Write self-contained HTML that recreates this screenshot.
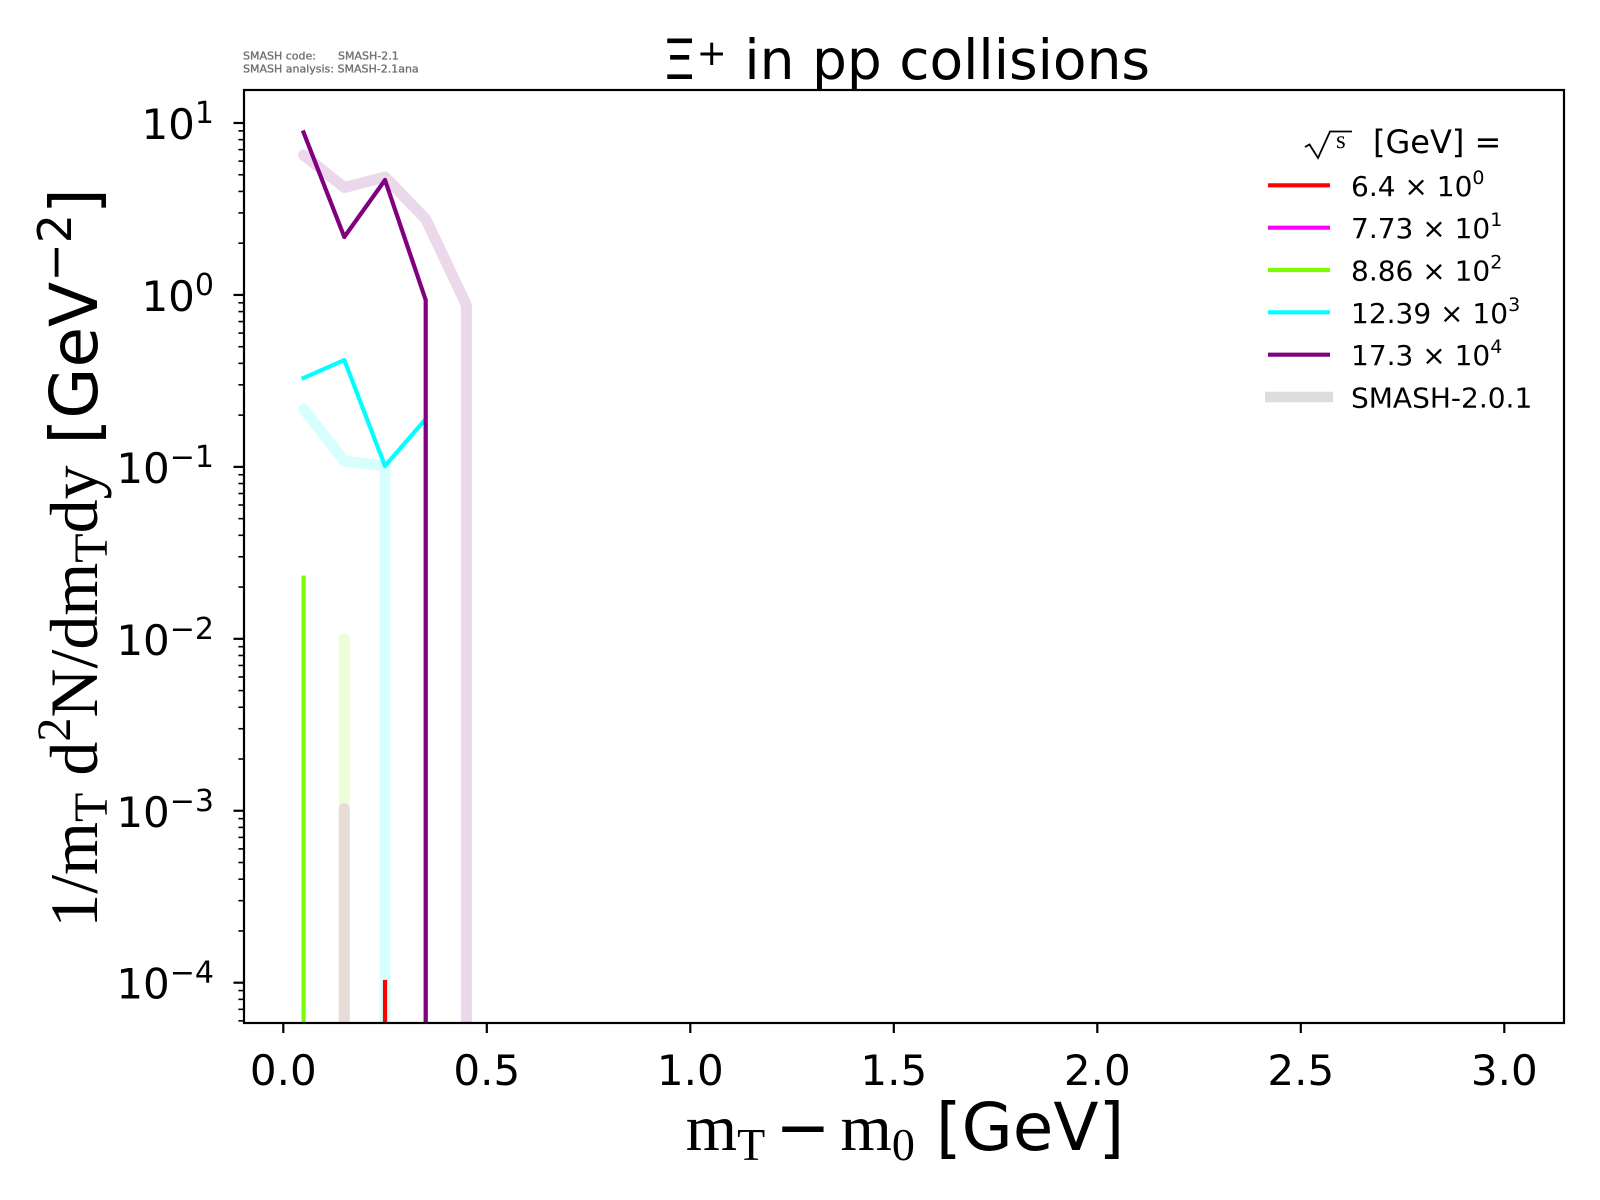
<!DOCTYPE html>
<html><head><meta charset="utf-8"><style>
html,body{margin:0;padding:0;background:#fff;}
svg{display:block;}
text{font-family:"DejaVu Sans","Liberation Sans",sans-serif;fill:#000;}
.serif{font-family:"Liberation Serif","DejaVu Serif",serif;}
</style></head><body>
<svg width="1600" height="1200" viewBox="0 0 1600 1200" xmlns="http://www.w3.org/2000/svg">
<rect x="0" y="0" width="1600" height="1200" fill="#fff"/>
<defs><clipPath id="ax"><rect x="244" y="90" width="1320" height="933"/></clipPath></defs>

<!-- header small text -->
<g font-size="11" style="fill:#6a6a6a;stroke:#7a7a7a;stroke-width:0.35">
<text x="243" y="59.5" style="fill:#6a6a6a">SMASH code:</text>
<text x="338" y="59.5" style="fill:#6a6a6a">SMASH-2.1</text>
<text x="243" y="72.5" style="fill:#6a6a6a">SMASH analysis: SMASH-2.1ana</text>
</g>

<!-- title -->
<text x="906" y="79" font-size="55" text-anchor="middle">Ξ<tspan font-size="36" dy="-14">+</tspan><tspan dy="14"> in pp collisions</tspan></text>

<!-- data -->
<g clip-path="url(#ax)" fill="none" stroke-linejoin="round">
  <polyline points="303.6,155 344.3,187.5 385,177 425.7,219 466.4,305 466.4,1030" stroke="#ebd8eb" stroke-width="11" stroke-linecap="round"/>
  <polyline points="303.6,409 344.3,461 385,466 385,1030" stroke="#d7fffe" stroke-width="11" stroke-linecap="round"/>
  <line x1="344.3" y1="638.5" x2="344.3" y2="1030" stroke="#ebfed9" stroke-width="11" stroke-linecap="round"/>
  <line x1="344.3" y1="808.5" x2="344.3" y2="1030" stroke="#e8dcd8" stroke-width="11" stroke-linecap="round"/>
  <line x1="303.6" y1="577.7" x2="303.6" y2="1030" stroke="#7cfc00" stroke-width="4.2" stroke-linecap="square"/>
  <line x1="385" y1="982" x2="385" y2="1030" stroke="#ff0000" stroke-width="4.2" stroke-linecap="square"/>
  <polyline points="303.6,378 344.3,360 385,466 425.7,419 425.7,1030" stroke="#00ffff" stroke-width="4.2" stroke-linecap="square"/>
  <polyline points="303.6,132.5 344.3,237 385,180 425.7,300 425.7,1030" stroke="#800080" stroke-width="4.2" stroke-linecap="square"/>
</g>

<!-- axes frame -->
<rect x="244" y="90" width="1320" height="933" fill="none" stroke="#000" stroke-width="2.2"/>

<!-- x ticks -->
<g stroke="#000" stroke-width="2.2">
  <line x1="283.3" y1="1023" x2="283.3" y2="1033"/>
  <line x1="486.8" y1="1023" x2="486.8" y2="1033"/>
  <line x1="690.3" y1="1023" x2="690.3" y2="1033"/>
  <line x1="893.8" y1="1023" x2="893.8" y2="1033"/>
  <line x1="1097.3" y1="1023" x2="1097.3" y2="1033"/>
  <line x1="1300.8" y1="1023" x2="1300.8" y2="1033"/>
  <line x1="1504.3" y1="1023" x2="1504.3" y2="1033"/>
</g>
<g font-size="42" text-anchor="middle">
  <text x="283.3" y="1085">0.0</text>
  <text x="486.8" y="1085">0.5</text>
  <text x="690.3" y="1085">1.0</text>
  <text x="893.8" y="1085">1.5</text>
  <text x="1097.3" y="1085">2.0</text>
  <text x="1300.8" y="1085">2.5</text>
  <text x="1504.3" y="1085">3.0</text>
</g>

<!-- y major ticks -->
<g stroke="#000" stroke-width="2.2">
  <line x1="233.5" y1="123" x2="244" y2="123"/>
  <line x1="233.5" y1="294.94" x2="244" y2="294.94"/>
  <line x1="233.5" y1="466.88" x2="244" y2="466.88"/>
  <line x1="233.5" y1="638.82" x2="244" y2="638.82"/>
  <line x1="233.5" y1="810.76" x2="244" y2="810.76"/>
  <line x1="233.5" y1="982.7" x2="244" y2="982.7"/>
</g>
<!-- y minor ticks -->
<g stroke="#000" stroke-width="1.6">
  <line x1="238.4" y1="243.18" x2="244" y2="243.18"/><line x1="238.4" y1="212.9" x2="244" y2="212.9"/><line x1="238.4" y1="191.42" x2="244" y2="191.42"/><line x1="238.4" y1="174.76" x2="244" y2="174.76"/><line x1="238.4" y1="161.14" x2="244" y2="161.14"/><line x1="238.4" y1="149.63" x2="244" y2="149.63"/><line x1="238.4" y1="139.66" x2="244" y2="139.66"/><line x1="238.4" y1="130.87" x2="244" y2="130.87"/>
  <line x1="238.4" y1="415.12" x2="244" y2="415.12"/><line x1="238.4" y1="384.84" x2="244" y2="384.84"/><line x1="238.4" y1="363.36" x2="244" y2="363.36"/><line x1="238.4" y1="346.7" x2="244" y2="346.7"/><line x1="238.4" y1="333.08" x2="244" y2="333.08"/><line x1="238.4" y1="321.57" x2="244" y2="321.57"/><line x1="238.4" y1="311.6" x2="244" y2="311.6"/><line x1="238.4" y1="302.81" x2="244" y2="302.81"/>
  <line x1="238.4" y1="587.06" x2="244" y2="587.06"/><line x1="238.4" y1="556.78" x2="244" y2="556.78"/><line x1="238.4" y1="535.3" x2="244" y2="535.3"/><line x1="238.4" y1="518.64" x2="244" y2="518.64"/><line x1="238.4" y1="505.02" x2="244" y2="505.02"/><line x1="238.4" y1="493.51" x2="244" y2="493.51"/><line x1="238.4" y1="483.54" x2="244" y2="483.54"/><line x1="238.4" y1="474.75" x2="244" y2="474.75"/>
  <line x1="238.4" y1="759" x2="244" y2="759"/><line x1="238.4" y1="728.72" x2="244" y2="728.72"/><line x1="238.4" y1="707.24" x2="244" y2="707.24"/><line x1="238.4" y1="690.58" x2="244" y2="690.58"/><line x1="238.4" y1="676.96" x2="244" y2="676.96"/><line x1="238.4" y1="665.45" x2="244" y2="665.45"/><line x1="238.4" y1="655.48" x2="244" y2="655.48"/><line x1="238.4" y1="646.69" x2="244" y2="646.69"/>
  <line x1="238.4" y1="930.94" x2="244" y2="930.94"/><line x1="238.4" y1="900.66" x2="244" y2="900.66"/><line x1="238.4" y1="879.18" x2="244" y2="879.18"/><line x1="238.4" y1="862.52" x2="244" y2="862.52"/><line x1="238.4" y1="848.9" x2="244" y2="848.9"/><line x1="238.4" y1="837.39" x2="244" y2="837.39"/><line x1="238.4" y1="827.42" x2="244" y2="827.42"/><line x1="238.4" y1="818.63" x2="244" y2="818.63"/>
  <line x1="238.4" y1="1020.84" x2="244" y2="1020.84"/><line x1="238.4" y1="1009.33" x2="244" y2="1009.33"/><line x1="238.4" y1="999.36" x2="244" y2="999.36"/><line x1="238.4" y1="990.57" x2="244" y2="990.57"/>
</g>
<!-- y tick labels -->
<g font-size="42" text-anchor="end">
  <text x="214" y="139">10<tspan font-size="30" dy="-16">1</tspan></text>
  <text x="214" y="310.9">10<tspan font-size="30" dy="-16">0</tspan></text>
  <text x="214" y="482.9">10<tspan font-size="30" dy="-16">−1</tspan></text>
  <text x="214" y="654.8">10<tspan font-size="30" dy="-16">−2</tspan></text>
  <text x="214" y="826.8">10<tspan font-size="30" dy="-16">−3</tspan></text>
  <text x="214" y="998.7">10<tspan font-size="30" dy="-16">−4</tspan></text>
</g>

<!-- x label -->
<text x="905" y="1150" font-size="66" text-anchor="middle"><tspan class="serif">m</tspan><tspan class="serif" font-size="46" dy="10">T</tspan><tspan dy="-10" dx="10">−</tspan><tspan class="serif" dx="10">m</tspan><tspan class="serif" font-size="46" dy="10">0</tspan><tspan dy="-10"> [GeV]</tspan></text>

<!-- y label -->
<text transform="translate(97,558) rotate(-90)" font-size="66" text-anchor="middle"><tspan class="serif" font-size="68">1/m</tspan><tspan class="serif" font-size="48" dy="10">T</tspan><tspan class="serif" font-size="68" dy="-10"> d</tspan><tspan class="serif" font-size="48" dy="-27">2</tspan><tspan class="serif" font-size="68" dy="27">N/dm</tspan><tspan class="serif" font-size="48" dy="10">T</tspan><tspan class="serif" font-size="68" dy="-10">dy</tspan><tspan> [GeV</tspan><tspan font-size="46" dy="-26">−2</tspan><tspan dy="26">]</tspan></text>

<!-- legend -->
<polyline points="1305,147 1309.5,144.5 1318,158 1330,131.5 1352,131.5" fill="none" stroke="#000" stroke-width="1.8" stroke-linejoin="miter"/>
<text x="1336" y="148" font-size="25" class="serif">s</text>
<text x="1373" y="153" font-size="32">[GeV] =</text>

<g stroke-width="4.2">
  <line x1="1268" y1="185.3" x2="1330" y2="185.3" stroke="#ff0000"/>
  <line x1="1268" y1="227.7" x2="1330" y2="227.7" stroke="#ff00ff"/>
  <line x1="1268" y1="270" x2="1330" y2="270" stroke="#7cfc00"/>
  <line x1="1268" y1="312.3" x2="1330" y2="312.3" stroke="#00ffff"/>
  <line x1="1268" y1="354.7" x2="1330" y2="354.7" stroke="#800080"/>
</g>
<line x1="1265" y1="397" x2="1333" y2="397" stroke="#dddddd" stroke-width="10.5"/>
<g font-size="28">
  <text x="1351" y="195.8">6.4 × 10<tspan font-size="19" dy="-12">0</tspan></text>
  <text x="1351" y="238.2">7.73 × 10<tspan font-size="19" dy="-12">1</tspan></text>
  <text x="1351" y="280.5">8.86 × 10<tspan font-size="19" dy="-12">2</tspan></text>
  <text x="1351" y="322.8">12.39 × 10<tspan font-size="19" dy="-12">3</tspan></text>
  <text x="1351" y="365.2">17.3 × 10<tspan font-size="19" dy="-12">4</tspan></text>
  <text x="1351" y="407.5">SMASH-2.0.1</text>
</g>
</svg>
</body></html>
